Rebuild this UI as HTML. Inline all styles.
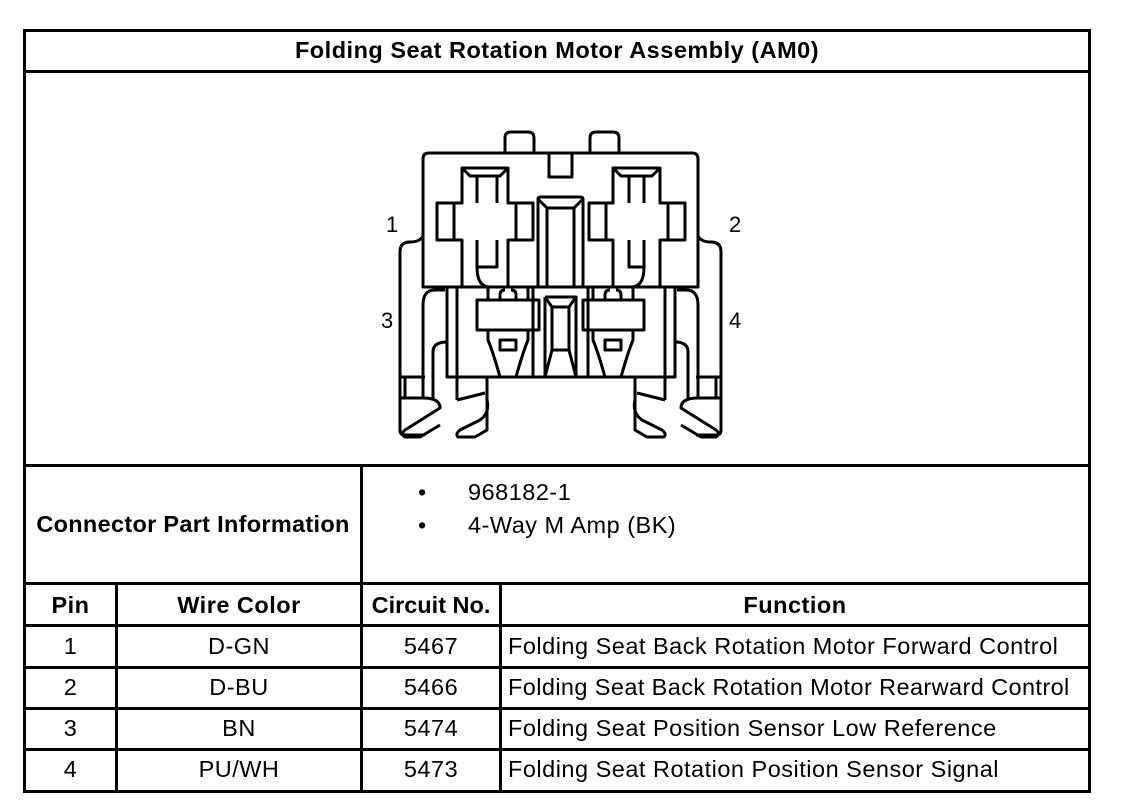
<!DOCTYPE html>
<html><head><style>
body{margin:0;background:#fff;width:1136px;height:808px;position:relative;overflow:hidden;font-family:"Liberation Sans",Arial,sans-serif;color:#000}
.h{position:absolute;height:3px;background:#000}
.v{position:absolute;width:3px;background:#000}
.t{position:absolute;font-size:23.5px;letter-spacing:0.5px;white-space:nowrap;line-height:26px}
.b{font-weight:bold;letter-spacing:0.5px}
.c{text-align:center}
</style></head><body>
<div class="h" style="left:23px;top:29px;width:1068px"></div>
<div class="h" style="left:23px;top:790px;width:1068px"></div>
<div class="v" style="left:23px;top:29px;height:764px"></div>
<div class="v" style="left:1088px;top:29px;height:764px"></div>
<div class="h" style="left:23px;top:70px;width:1068px"></div>
<div class="h" style="left:23px;top:464px;width:1068px"></div>
<div class="h" style="left:23px;top:582px;width:1068px"></div>
<div class="h" style="left:23px;top:624px;width:1068px"></div>
<div class="h" style="left:23px;top:666px;width:1068px"></div>
<div class="h" style="left:23px;top:707px;width:1068px"></div>
<div class="h" style="left:23px;top:748px;width:1068px"></div>
<div class="v" style="left:360px;top:464px;height:329px"></div>
<div class="v" style="left:115px;top:582px;height:211px"></div>
<div class="v" style="left:499px;top:582px;height:211px"></div>

<div class="t b c" style="left:26px;width:1062px;top:37px">Folding Seat Rotation Motor Assembly (AM0)</div>
<div class="t b c" style="left:26px;width:334px;top:511px;letter-spacing:0.3px">Connector Part Information</div>
<div class="t" style="left:418px;top:479px">•</div>
<div class="t" style="left:418px;top:512px">•</div>
<div class="t" style="left:468px;top:479px">968182-1</div>
<div class="t" style="left:468px;top:512px">4-Way M Amp (BK)</div>

<div class="t b c" style="left:26px;width:89px;top:592px">Pin</div>
<div class="t b c" style="left:118px;width:242px;top:592px">Wire Color</div>
<div class="t b c" style="left:363px;width:136px;top:592px;letter-spacing:0px">Circuit No.</div>
<div class="t b c" style="left:502px;width:586px;top:592px">Function</div>

<div class="t c" style="left:26px;width:89px;top:633px">1</div>
<div class="t c" style="left:118px;width:242px;top:633px">D-GN</div>
<div class="t c" style="left:363px;width:136px;top:633px">5467</div>
<div class="t" style="left:508px;top:633px">Folding Seat Back Rotation Motor Forward Control</div>
<div class="t c" style="left:26px;width:89px;top:674px">2</div>
<div class="t c" style="left:118px;width:242px;top:674px">D-BU</div>
<div class="t c" style="left:363px;width:136px;top:674px">5466</div>
<div class="t" style="left:508px;top:674px;letter-spacing:0.4px">Folding Seat Back Rotation Motor Rearward Control</div>
<div class="t c" style="left:26px;width:89px;top:715px">3</div>
<div class="t c" style="left:118px;width:242px;top:715px">BN</div>
<div class="t c" style="left:363px;width:136px;top:715px">5474</div>
<div class="t" style="left:508px;top:715px">Folding Seat Position Sensor Low Reference</div>
<div class="t c" style="left:26px;width:89px;top:756px">4</div>
<div class="t c" style="left:118px;width:242px;top:756px">PU/WH</div>
<div class="t c" style="left:363px;width:136px;top:756px">5473</div>
<div class="t" style="left:508px;top:756px">Folding Seat Rotation Position Sensor Signal</div>

<svg style="position:absolute;left:0;top:0" width="1136" height="808" fill="none" stroke="#000" stroke-width="3" stroke-linejoin="round">
<g fill="#000" stroke="none" font-family="Liberation Sans,Arial,sans-serif" font-size="22">
<text x="386" y="232">1</text><text x="729" y="232">2</text>
<text x="381" y="328">3</text><text x="729" y="328">4</text></g>
<path d="M505 153 V138 Q505 132 511 132 H528 Q534 132 534 138 V153"/>
<path d="M590 153 V138 Q590 132 596 132 H613 Q619 132 619 138 V153"/>
<path d="M423 287 V159 Q423 153 429 153 H692 Q698 153 698 159 V287 Z"/>
<rect x="549" y="153" width="23" height="24"/>
<path d="M462 287 V240 H437 V203 H462 V168 H508 V203 H533 V240 H508 V287"/>
<path d="M454 203 V240 M516 203 V240 M462 168 L470 176 H500 L508 168 M477 176 V203 M497 176 V203 M477 240 V267 H497 V240 M477 267 Q477 287 490 287"/>
<path d="M613 287 V240 H589 V203 H613 V168 H660 V203 H685 V240 H660 V287"/>
<path d="M606 203 V240 M668 203 V240 M613 168 L621 176 H652 L660 168 M629 176 V203 M644 176 V203 M629 240 V267 H644 V240 M644 267 Q644 287 631 287"/>
<path d="M538 287 V199 Q538 197 541 197 H580 Q583 197 583 199 V287 M538 199 L547 208 H574 L583 199 M547 208 V287 M574 208 V287"/>
<path d="M423 236 Q420 242 410 242 Q400 242 400 252 V430 Q400 435 405 435 H425"/>
<path d="M698 236 Q701 242 711 242 Q721 242 721 252 V430 Q721 435 716 435 H696"/>
<path d="M445 290 H435 Q423 290 423 305 V398"/>
<path d="M677 290 H686 Q698 290 698 305 V398"/>
<path d="M447 342 Q433 342 433 352 V398"/>
<path d="M675 342 Q688 342 688 352 V398"/>
<path d="M447 287 V377 H675 V287"/>
<path d="M457 287 V377 M665 287 V377 M533 287 V377 M588 287 V377"/>
<path d="M488 287 V300 H477 V330 H488 V340 Q493 352 500 377 M528 287 V300 H539 V330 H528 V340 Q523 352 516 377"/>
<path d="M488 300 H528 M488 330 H528 M500 300 V295 Q500 290 505 290 M516 300 V295 Q516 290 511 290 M500 340 H516 V350 H500 Z"/>
<path d="M593 287 V300 H583 V330 H593 V340 Q598 352 605 377 M633 287 V300 H644 V330 H633 V340 Q628 352 621 377"/>
<path d="M593 300 H633 M593 330 H633 M605 300 V295 Q605 290 610 290 M621 300 V295 Q621 290 616 290 M605 340 H621 V350 H605 Z"/>
<path d="M545 297 H576 V377 M545 297 V377 M545 297 L552 307 H569 L576 297 M552 307 V350 H569 V307 M552 350 L545 377 M569 350 L576 377"/>
<path d="M400 377 H425 M400 398 H423 M405 377 V398"/>
<path d="M721 377 H696 M721 398 H698 M716 377 V398"/>
<path d="M457 377 V400 M487 377 V400 Q490 413 480 420 L460 430 Q455 434 458 437 H475 L487 430 V400"/>
<path d="M665 377 V400 M635 377 V400 Q632 413 642 420 L662 430 Q667 434 664 437 H647 L635 430 V400"/>
<path d="M423 398 Q440 398 440 408 L405 430 Q400 434 405 437 H420 L440 425"/>
<path d="M698 398 Q681 398 681 408 L716 430 Q721 434 716 437 H701 L681 425"/>
<path d="M457 400 L485 393 M665 400 L637 393"/>
</svg>
</body></html>
